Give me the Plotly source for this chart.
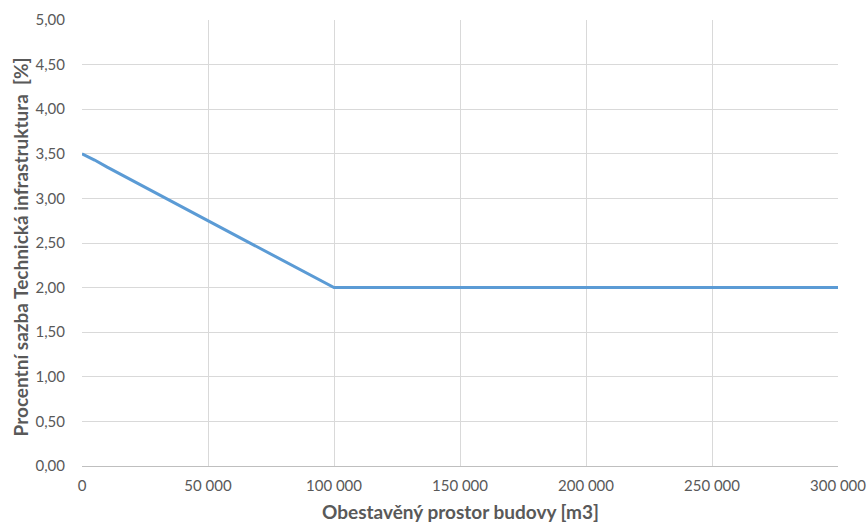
import plotly.graph_objects as go

x_volume = [0, 5000, 10000, 20000, 30000, 40000, 50000, 60000, 70000, 80000, 90000, 100000,
            150000, 200000, 250000, 300000]
y_rate = [3.50, 3.43, 3.35, 3.20, 3.05, 2.90, 2.75, 2.60, 2.45, 2.30, 2.15, 2.00,
          2.00, 2.00, 2.00, 2.00]
x_ticks = [0, 50000, 100000, 150000, 200000, 250000, 300000]

x_title = "Obestavěný prostor budovy [m3]"
y_title = "Procentní sazba Technická infrastruktura  [%]"

font_family = "Lato, 'Open Sans', sans-serif"
gray = "#595959"

W, H = 868, 526
ML, MR, MT, MB = 82, 30, 20, 60
pw, ph = W - ML - MR, H - MT - MB

fig = go.Figure()
fig.add_trace(go.Scatter(
    x=x_volume, y=y_rate, mode="lines",
    line=dict(color="#5B9BD5", width=3),
    showlegend=False, hoverinfo="skip",
))

fig.update_layout(
    width=W, height=H,
    margin=dict(l=ML, r=MR, t=MT, b=MB),
    paper_bgcolor="white", plot_bgcolor="white",
    separators=", ",
    font=dict(family=font_family, color=gray, size=15),
    xaxis=dict(
        range=[0, 300000], tickvals=x_ticks,
        tickformat=",d", showgrid=True, gridcolor="#D9D9D9", gridwidth=1,
        showline=True, linecolor="#BFBFBF", linewidth=1, zeroline=False,
        ticks="", automargin=False, ticklabelstandoff=6,
        tickfont=dict(size=15, color=gray),
    ),
    yaxis=dict(
        range=[0, 5], dtick=0.5, tickformat=".2f",
        showgrid=True, gridcolor="#D9D9D9", gridwidth=1,
        showline=False, zeroline=False, ticks="", automargin=False,
        ticklabelstandoff=16,
        tickfont=dict(size=15, color=gray),
    ),
    annotations=[
        dict(text=f"<b>{x_title}</b>", xref="paper", yref="paper",
             x=0.5, y=-(511 - (MT + ph)) / ph, xanchor="center", yanchor="middle",
             showarrow=False, font=dict(size=19, family=font_family, color=gray)),
        dict(text=f"<b>{y_title}</b>", xref="paper", yref="paper",
             x=(20 - ML) / pw, y=0.49, xanchor="center", yanchor="middle", textangle=-90,
             showarrow=False, font=dict(size=19, family=font_family, color=gray)),
    ],
)

fig.write_html("out.html", config={"displayModeBar": False},
               post_script="document.body.style.margin='0';")
